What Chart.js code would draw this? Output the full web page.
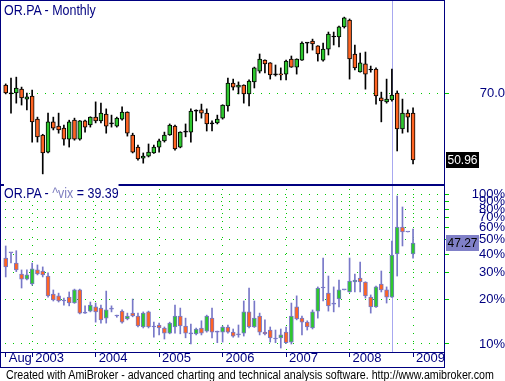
<!DOCTYPE html>
<html>
<head>
<meta charset="utf-8">
<script src="https://cdn.jsdelivr.net/npm/chart.js@4.4.0/dist/chart.umd.min.js"></script>
<style>
  body { margin: 0; background: #fff; width: 505px; height: 381px; overflow: hidden; position: relative; }
  canvas { position: absolute; left: 0; }
  #pricePane { top: 0; }
  #vixPane { top: 184px; }
  .title { position: absolute; left: 4px; font: 15px/15px 'Liberation Sans', Arial, sans-serif; color: #000080;
           white-space: nowrap; transform: scaleX(0.83); transform-origin: 0 0; }
  .title span.bg { background: #fff; }
  #t1 { top: 2px; }
  #t2 { top: 185px; }
  #t2 .sym { color: #8080c0; }
  #foot { position: absolute; left: 6px; top: 369px; font: 12px/12px 'Liberation Sans', Arial, sans-serif; color: #000;
          white-space: nowrap; transform: scaleX(0.89); transform-origin: 0 0; }
</style>
</head>
<body>
<canvas id="pricePane" width="505" height="185"></canvas>
<canvas id="vixPane" width="505" height="186"></canvas>
<div class="title" id="t1"><span class="bg">OR.PA - Monthly</span></div>
<div class="title" id="t2"><span class="bg">OR.PA - <span class="sym">^vix</span> = 39.39</span></div>
<div id="foot">Created with AmiBroker - advanced charting and technical analysis software. http://www.amibroker.com</div>
<script>
// monthly bars, Aug 2002 .. Jan 2009
const orOpen = [72.8, 69.8, 70.1, 71.4, 68.1, 69.1, 61.9, 57.4, 52.9, 61.1,
                59.9, 59.3, 56.3, 61.6, 56.3, 61.4, 60.2, 62.5, 61.4, 63.4,
                60.5, 59.9, 61.9, 64.0, 57.4, 54.2, 51.4, 51.9, 52.7, 54.2,
                55.8, 57.4, 59.9, 54.2, 58.2, 58.2, 64.3, 64.7, 63.7, 60.5,
                60.8, 62.2, 65.9, 73.5, 72.1, 72.8, 69.8, 73.9, 77.8, 82.0,
                80.9, 76.4, 76.7, 76.7, 82.4, 79.3, 82.0, 88.9, 89.8, 87.7,
                82.0, 86.4, 91.5, 91.5, 96.0, 99.2, 84.4, 77.5, 80.5, 78.2,
                78.6, 68.5, 67.2, 67.8, 70.1, 59.1, 63.7, 63.7];
const orHigh = [73.2, 75.3, 75.6, 72.1, 70.1, 71.1, 62.5, 57.6, 63.7, 62.5,
                63.7, 60.2, 61.6, 62.2, 61.5, 61.6, 62.6, 67.2, 66.8, 65.0,
                63.1, 62.5, 65.6, 64.1, 57.9, 54.7, 52.7, 55.0, 54.7, 56.3,
                58.2, 60.5, 60.2, 58.3, 60.5, 65.0, 64.7, 66.5, 65.0, 61.4,
                63.1, 66.3, 75.3, 74.9, 73.9, 72.9, 74.6, 79.3, 84.4, 82.1,
                81.0, 80.1, 79.0, 82.0, 83.6, 82.5, 89.4, 89.0, 90.6, 87.8,
                88.9, 93.7, 93.7, 96.4, 100.6, 99.7, 88.1, 84.8, 85.2, 79.7,
                79.0, 70.4, 74.9, 78.6, 70.8, 68.1, 64.7, 65.3];
const orLow = [69.8, 63.7, 66.8, 66.2, 64.7, 55.5, 55.5, 47.7, 52.7, 58.8,
               57.9, 54.7, 54.2, 56.0, 56.0, 58.2, 59.6, 60.8, 60.8, 57.9,
               59.6, 59.6, 61.6, 57.1, 52.7, 50.9, 50.2, 51.7, 52.6, 52.9,
               55.5, 57.3, 53.4, 54.0, 56.9, 55.5, 61.4, 62.2, 58.5, 58.5,
               60.5, 61.9, 64.3, 71.1, 69.8, 66.8, 65.9, 71.8, 77.1, 77.1,
               74.9, 76.0, 74.6, 74.6, 79.2, 76.7, 81.9, 84.8, 86.0, 81.6,
               81.6, 84.0, 88.1, 87.3, 95.5, 74.9, 78.2, 77.4, 71.4, 77.4,
               66.5, 61.1, 66.8, 67.4, 53.2, 57.9, 58.2, 50.0];
const orClose = [70.1, 69.8, 71.8, 68.5, 68.8, 61.1, 56.9, 52.7, 61.1, 59.3,
                 58.8, 56.3, 61.1, 56.3, 61.4, 59.6, 62.5, 61.4, 63.7, 59.9,
                 60.5, 62.2, 64.0, 57.9, 52.9, 51.2, 51.9, 52.9, 54.2, 55.8,
                 57.4, 60.2, 53.7, 58.2, 58.2, 64.3, 64.3, 63.7, 60.5, 60.5,
                 61.9, 66.2, 73.5, 72.1, 72.8, 69.8, 74.2, 79.0, 82.4, 80.5,
                 76.4, 76.4, 76.4, 81.6, 79.3, 82.4, 88.9, 88.9, 88.5, 84.4,
                 86.4, 92.8, 91.5, 96.0, 100.2, 82.4, 79.0, 80.9, 76.7, 78.2,
                 69.1, 67.5, 68.1, 69.4, 59.1, 63.7, 62.5, 50.96];

const vixOpen = [37.6, 40.8, 34.8, 29.4, 27.2, 25.2, 31.3, 30.8, 28.5, 21.6,
                 21.0, 19.4, 20.6, 18.8, 23.0, 16.1, 16.6, 17.7, 17.4, 14.9,
                 17.1, 15.4, 16.6, 14.7, 16.1, 15.4, 13.0, 16.4, 13.0, 13.4,
                 12.8, 11.8, 13.0, 15.4, 13.2, 11.7, 11.7, 12.8, 12.2, 14.9,
                 12.0, 12.0, 13.0, 12.0, 11.5, 11.8, 16.4, 13.0, 15.4, 12.0,
                 12.4, 10.8, 11.0, 12.0, 10.3, 17.7, 14.9, 14.0, 12.8, 16.6,
                 23.7, 21.9, 18.5, 20.0, 23.0, 22.3, 26.0, 27.6, 26.0, 20.6,
                 17.7, 25.2, 23.0, 20.6, 40.0, 60.7, 56.2, 40.0];
const vixHigh = [45.3, 40.8, 42.1, 31.3, 31.3, 34.8, 33.8, 32.8, 29.9, 23.0,
                 21.9, 20.3, 22.3, 23.3, 23.3, 18.0, 19.1, 18.8, 18.2, 22.6,
                 18.0, 15.6, 16.9, 16.1, 20.0, 16.1, 16.4, 16.6, 14.0, 13.8,
                 13.0, 14.0, 18.2, 17.4, 14.9, 13.6, 12.8, 14.3, 15.6, 17.4,
                 12.2, 13.2, 13.4, 12.6, 13.4, 19.4, 23.7, 19.4, 16.1, 14.5,
                 13.0, 12.4, 12.6, 13.0, 18.8, 21.0, 15.4, 14.3, 16.9, 24.1,
                 37.6, 28.5, 24.1, 26.8, 23.0, 37.6, 29.4, 35.4, 26.1, 21.3,
                 24.4, 30.8, 24.1, 48.9, 97.8, 82.6, 56.2, 58.8];
const vixLow = [28.1, 34.9, 30.5, 23.7, 26.8, 24.8, 29.0, 28.1, 20.6, 19.4,
                19.1, 18.2, 18.0, 18.7, 15.9, 16.0, 16.4, 14.0, 13.8, 13.8,
                16.4, 15.1, 13.8, 14.5, 15.2, 13.0, 12.8, 12.8, 11.1, 11.5,
                10.8, 11.7, 11.8, 11.7, 11.0, 10.0, 11.5, 11.5, 12.0, 11.0,
                10.2, 10.3, 11.8, 11.1, 11.1, 11.3, 12.8, 12.9, 11.5, 11.5,
                10.3, 10.2, 9.4, 10.1, 10.0, 14.5, 11.5, 12.4, 12.6, 14.9,
                19.4, 16.6, 16.4, 17.7, 23.0, 22.2, 22.3, 22.3, 20.3, 16.1,
                17.6, 22.3, 18.8, 20.5, 28.5, 45.3, 56.2, 37.6];
const vixClose = [32.8, 40.8, 31.3, 27.2, 29.0, 31.8, 29.4, 29.0, 21.0, 19.7,
                  19.4, 19.4, 18.8, 23.0, 16.1, 16.1, 18.2, 16.4, 14.5, 16.9,
                  17.1, 15.4, 14.0, 15.4, 15.4, 13.2, 16.1, 13.0, 13.0, 12.8,
                  11.8, 13.8, 15.4, 13.2, 11.8, 11.7, 12.6, 11.8, 15.4, 12.0,
                  12.0, 13.0, 12.0, 11.3, 11.5, 16.4, 13.0, 14.9, 12.0, 11.7,
                  11.0, 10.8, 11.5, 10.2, 15.4, 14.7, 14.0, 13.0, 16.4, 23.7,
                  23.7, 18.0, 18.5, 23.0, 23.0, 26.4, 26.8, 26.0, 21.0, 17.7,
                  24.1, 23.0, 20.6, 39.39, 60.7, 56.2, 56.2, 47.27];

// date axis: bar index of each label
const dateTicks = [0, 5, 17, 29, 41, 53, 65, 77];
const dateLabels = ['Aug', '2003', '2004', '2005', '2006', '2007', '2008', '2009'];
const priceTicks = [70];
const vixTicks = [10, 20, 30, 40, 50, 60, 70, 80, 90, 100];
const selectedBar = 73;

const NAVY = '#000080';
const GRID = '#00c800';
const UP = '#2ec82e';
const DOWN = '#ff6422';
const FONT = "'Liberation Sans', Arial, sans-serif";
const X_MIN = -0.89, X_MAX = 82.85;

function candles(open, high, low, close, outline) {
  return [
    {
      data: open.map((o, i) => ({ x: i, y: [o, close[i]] })),
      backgroundColor: open.map((o, i) => close[i] > o ? UP : (close[i] < o ? DOWN : outline)),
      borderColor: outline,
      borderWidth: 1,
      borderSkipped: false,
      barThickness: 4,
      minBarLength: 1,
      grouped: false
    },
    {
      data: high.map((h, i) => ({ x: i, y: [low[i], h] })),
      backgroundColor: outline,
      barThickness: 1,
      grouped: false
    }
  ];
}

function valueBox(ctx, y, text, bg, fg) {
  const yy = Math.round(y);
  ctx.fillStyle = bg;
  ctx.fillRect(446, yy - 8, 33, 16);
  ctx.fillStyle = fg;
  ctx.font = '12px ' + FONT;
  ctx.textAlign = 'center';
  ctx.textBaseline = 'middle';
  ctx.fillText(text, 462.5, yy + 1);
}

const cursorLine = {
  id: 'cursorLine',
  beforeDatasetsDraw(chart) {
    const { ctx, chartArea } = chart;
    const x = Math.round(chart.scales.x.getPixelForValue(selectedBar));
    ctx.save();
    ctx.fillStyle = '#a8a8f0';
    ctx.fillRect(x, 0, 1, chartArea.bottom);
    ctx.restore();
  }
};

const priceFrame = {
  id: 'priceFrame',
  afterDraw(chart) {
    const { ctx } = chart;
    ctx.save();
    ctx.fillStyle = NAVY;
    ctx.fillRect(0, 0, 445, 1);
    ctx.fillRect(0, 0, 1, 185);
    ctx.fillRect(444, 0, 1, 185);
    valueBox(ctx, chart.scales.y.getPixelForValue(orClose[orClose.length - 1]),
             orClose[orClose.length - 1].toFixed(2), '#000', '#fff');
    ctx.restore();
  }
};

const vixFrame = {
  id: 'vixFrame',
  afterDraw(chart) {
    const { ctx, chartArea } = chart;
    ctx.save();
    ctx.fillStyle = NAVY;
    ctx.fillRect(0, 0, 445, 2);
    ctx.fillRect(0, chartArea.bottom, 445, 1);
    ctx.fillRect(0, 183, 445, 1);
    ctx.fillRect(0, 0, 1, 184);
    ctx.fillRect(444, 0, 1, 184);
    valueBox(ctx, chart.scales.y.getPixelForValue(vixClose[vixClose.length - 1]),
             vixClose[vixClose.length - 1].toFixed(2), '#8080c8', '#000');
    ctx.restore();
  }
};

function yAxis(min, max, ticks, fmt, pad) {
  return {
    type: 'logarithmic',
    position: 'right',
    min: min,
    max: max,
    bounds: 'data',
    afterFit: s => { s.width = 61; s.paddingTop = 0; s.paddingBottom = 0; },
    afterBuildTicks: s => { s.ticks = ticks.map(v => ({ value: v })); },
    border: { display: false, dash: [1, 7], dashOffset: 4 },
    grid: { color: GRID, lineWidth: 1, tickLength: 5, tickColor: GRID, tickBorderDash: [] },
    ticks: {
      autoSkip: false,
      crossAlign: 'far',
      padding: pad,
      color: NAVY,
      font: { family: FONT, size: 13 },
      callback: fmt
    }
  };
}

const common = {
  responsive: false,
  animation: false,
  devicePixelRatio: 1,
  events: [],
  plugins: { legend: { display: false }, tooltip: { enabled: false } }
};

new Chart(document.getElementById('pricePane'), {
  type: 'bar',
  data: { datasets: candles(orOpen, orHigh, orLow, orClose, '#000') },
  options: Object.assign({}, common, {
    layout: { autoPadding: false, padding: { left: 1, top: 1, right: 0, bottom: 1 } },
    scales: {
      x: { type: 'linear', min: X_MIN, max: X_MAX, bounds: 'data', offset: false,
           grid: { offset: false }, display: false },
      y: yAxis(45.46, 108.62, priceTicks, v => v.toFixed(1), 28)
    }
  }),
  plugins: [cursorLine, priceFrame]
});

new Chart(document.getElementById('vixPane'), {
  type: 'bar',
  data: { datasets: candles(vixOpen, vixHigh, vixLow, vixClose, '#7878c8') },
  options: Object.assign({}, common, {
    layout: { autoPadding: false, padding: { left: 1, top: 1, right: 0, bottom: 0 } },
    scales: {
      x: {
        type: 'linear', min: X_MIN, max: X_MAX, bounds: 'data', position: 'bottom', offset: false,
        afterFit: s => { s.height = 18; s.paddingLeft = 0; s.paddingRight = 0; },
        afterBuildTicks: s => { s.ticks = dateTicks.map(v => ({ value: v })); },
        border: { display: false, dash: [1, 7], dashOffset: 4 },
        grid: {
          offset: false,
          color: c => c.index === 0 ? 'rgba(0,0,0,0)' : GRID,
          tickLength: 5, tickColor: NAVY, tickBorderDash: []
        },
        ticks: {
          autoSkip: false, maxRotation: 0, minRotation: 0,
          align: 'start', labelOffset: 3, padding: -5,
          color: NAVY,
          font: { family: FONT, size: 13, lineHeight: 1 },
          callback: (v, i) => dateLabels[i]
        }
      },
      y: yAxis(8.84, 115.9, vixTicks, v => v + '%', 20)
    }
  }),
  plugins: [cursorLine, vixFrame]
});
</script>
</body>
</html>
